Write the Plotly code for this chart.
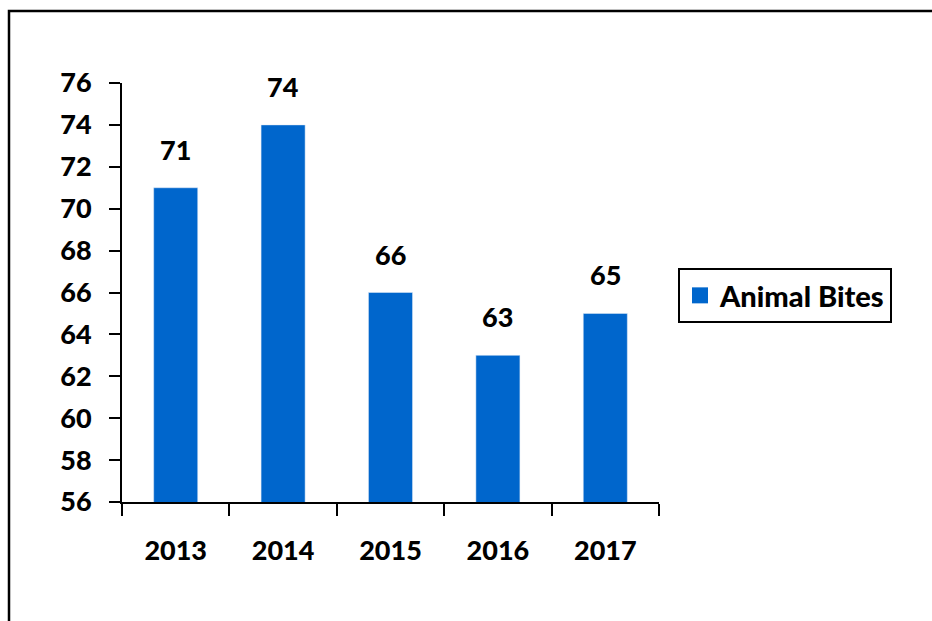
import plotly.graph_objects as go

years = ["2013", "2014", "2015", "2016", "2017"]
bites = [71, 74, 66, 63, 65]
series_name = "Animal Bites"
y_ticks = [56, 58, 60, 62, 64, 66, 68, 70, 72, 74, 76]

BLUE = "#0066CC"
FONT = "Lato"
WEIGHT = 900

W, H = 932, 621
L, R, T, B = 122, 273, 83, 119
pw = W - L - R
ph = H - T - B

fig = go.Figure()
fig.add_trace(go.Bar(
    x=years, y=bites, name=series_name, marker_color=BLUE,
    showlegend=False, hoverinfo="x+y",
))
# legend entry with a larger square swatch
fig.add_trace(go.Scatter(
    x=[years[0]], y=[None], mode="markers", name=series_name,
    marker=dict(symbol="square", size=20, color=BLUE),
    showlegend=True, hoverinfo="skip",
))

for i, v in enumerate(bites):
    fig.add_annotation(
        x=i, y=v, text=str(v), showarrow=False,
        yanchor="bottom", yshift=20,
        font=dict(family=FONT, size=27, color="black", weight=WEIGHT),
    )

# outer chart border (only top/left visible)
fig.add_shape(
    type="rect", xref="paper", yref="paper",
    x0=(9 - L) / pw, x1=3, y0=-2, y1=(H - B - 11) / ph,
    line=dict(color="black", width=2.5), fillcolor="rgba(0,0,0,0)",
    layer="below",
)

fig.update_layout(
    width=W, height=H,
    margin=dict(l=L, r=R, t=T, b=B, pad=0, autoexpand=False),
    paper_bgcolor="white", plot_bgcolor="white",
    bargap=0.59,
    showlegend=True,
    font=dict(family=FONT, size=27, color="black"),
    legend=dict(
        x=(678 - L) / pw, y=(H - B - 268) / ph,
        xanchor="left", yanchor="top",
        bordercolor="black", borderwidth=2,
        font=dict(family=FONT, size=29, color="black", weight=WEIGHT),
        itemsizing="trace", itemwidth=30,
    ),
    xaxis=dict(
        type="category", categoryorder="array", categoryarray=years,
        range=[-0.5, len(years) - 0.5],
        showline=True, linecolor="black", linewidth=2,
        ticks="outside", tickson="boundaries", ticklen=12, tickwidth=2,
        tickcolor="black", showgrid=False, zeroline=False, tickangle=0,
        tickfont=dict(family=FONT, size=27, color="black", weight=WEIGHT),
        ticklabelstandoff=24, fixedrange=True, automargin=False,
    ),
    yaxis=dict(
        range=[56, 76], tickvals=y_ticks, showline=True, linecolor="black",
        linewidth=2, ticks="outside", ticklen=11, tickwidth=2,
        tickcolor="black", showgrid=False, zeroline=False,
        tickfont=dict(family=FONT, size=27, color="black", weight=WEIGHT),
        ticklabelstandoff=12, fixedrange=True, automargin=False,
    ),
)

fig.write_html(
    "out.html",
    config={"displayModeBar": False},
    post_script="document.body.style.margin='0';",
)
